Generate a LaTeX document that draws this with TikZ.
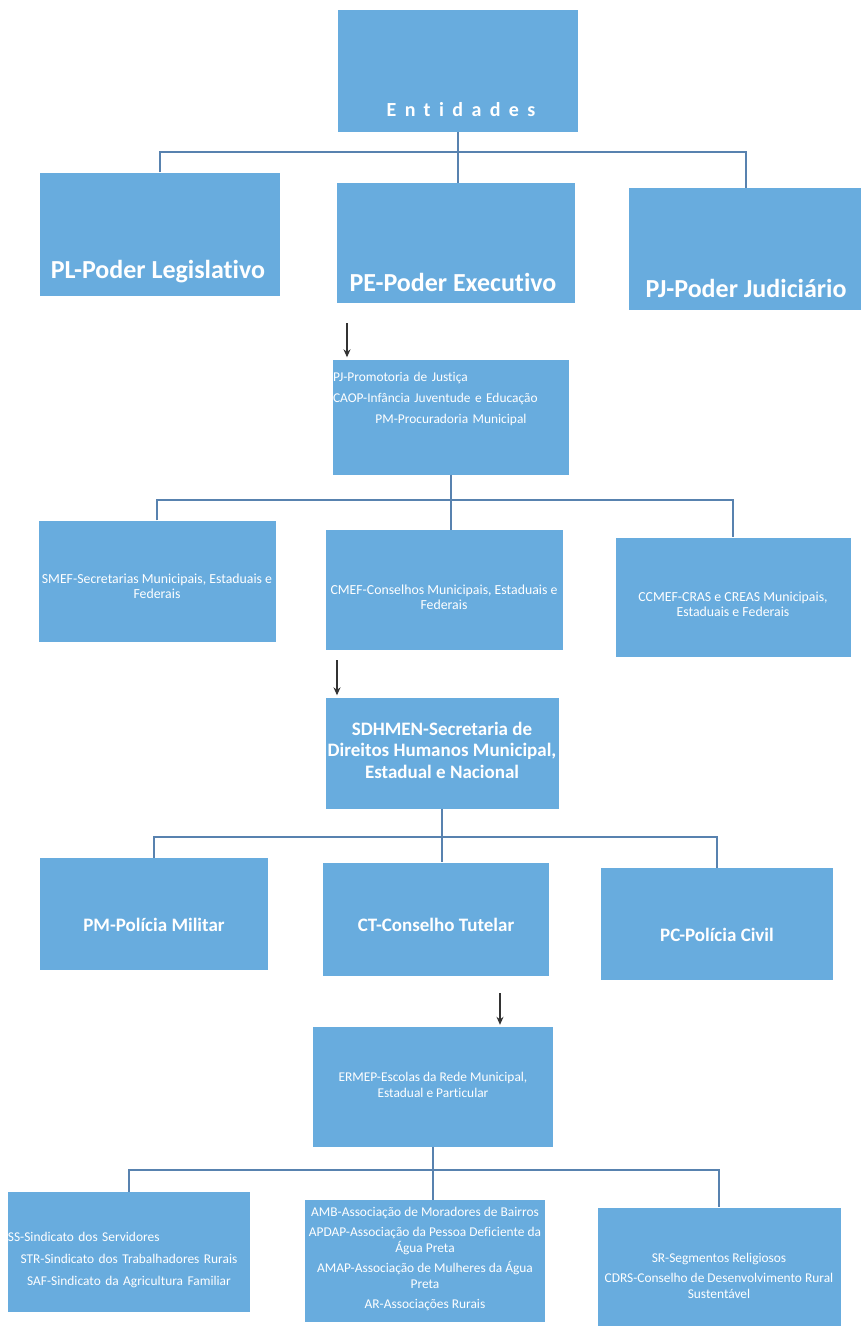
\documentclass[tikz,border=0pt]{standalone}
\usepackage{fontspec}
\setmainfont[Ligatures=NoCommon]{Carlito}
\newfontfamily\spacedfont[LetterSpace=42,Ligatures=NoCommon]{Carlito}
\usetikzlibrary{arrows.meta}
\definecolor{boxblue}{RGB}{104,172,222}
\definecolor{lineblue}{RGB}{88,130,175}
\begin{document}
\begin{tikzpicture}[x=1pt,y=-1pt,
  box/.style 2 args={rectangle, fill=boxblue, draw=none, minimum width=#1, minimum height=#2, inner sep=0pt},
  txt/.style={text=white, align=center, inner sep=0pt},
  big/.style={font=\fontsize{26}{30}\selectfont\bfseries},
  mid/.style={font=\fontsize{19}{21.5}\selectfont\bfseries},
  small/.style={font=\fontsize{13.4}{16}\selectfont},
  conn/.style={draw=lineblue, line width=2pt},
  arr/.style={draw=black!80, line width=1.3pt, shorten >=2pt, -{Stealth[length=8pt,width=7pt]}}]
\fill[white] (0,0) rectangle (860,1326);
\useasboundingbox (0,0) rectangle (860,1326);

% level 0
\node[box={240pt}{122pt}] (ent) at (458,71) {};
\node[txt, font={\spacedfont\bfseries\fontsize{20}{24}\selectfont}] (entT) at (461,110) {Entidades};

% level 1
\node[box={240pt}{123pt}] (pl) at (160,234) {};
\node[txt,big] (plT) at (158,272) {PL-Poder Legislativo};
\node[box={238pt}{120pt}] (pe) at (456,243) {};
\node[txt,big] (peT) at (453,282) {PE-Poder Executivo};
\node[box={234pt}{122pt}] (pj) at (746,249) {};
\node[txt,big] (pjT) at (746,288) {PJ-Poder Judiciário};

\draw[conn] (ent.south) -- (ent.south |- pe.north);
\path (ent.south) ++(0,20) coordinate (j1);
\draw[conn] (pl.north) |- (j1) -| (pj.north);

% promotoria
\coordinate (a1) at (347,323);
\node[box={236pt}{115pt}] (prom) at (451,417) {};
\draw[arr] (a1) -- (a1 |- prom.north);
\node[txt,small,text width=236pt,anchor=north] (promT) at (451,372) {\makebox[236pt][l]{PJ-Promotoria de Justiça}\\[5pt]\makebox[236pt][l]{CAOP-Infância Juventude e Educação}\\[5pt]PM-Procuradoria Municipal};

% level 2
\node[box={237pt}{121pt}] (smef) at (157,581) {};
\node[txt,font=\fontsize{13.8}{15}\selectfont] (smefT) at (157,586) {SMEF-Secretarias Municipais, Estaduais e\\Federais};
\node[box={237pt}{120pt}] (cmef) at (444,590) {};
\node[txt,font=\fontsize{13.8}{15}\selectfont] (cmefT) at (444,597) {CMEF-Conselhos Municipais, Estaduais e\\Federais};
\node[box={235pt}{119pt}] (ccmef) at (733,597) {};
\node[txt,font=\fontsize{13.8}{15}\selectfont] (ccmefT) at (733,604) {CCMEF-CRAS e CREAS Municipais,\\Estaduais e Federais};

\draw[conn] (prom.south) -- (prom.south |- cmef.north);
\path (prom.south) ++(0,25) coordinate (j2);
\draw[conn] (smef.north) |- (j2) -| (ccmef.north);

% SDHMEN
\coordinate (a2) at (337,660);
\node[box={233pt}{111pt}] (sdh) at (442,753) {};
\draw[arr] (a2) -- (a2 |- sdh.north);
\node[txt,mid] (sdhT) at (442,750) {SDHMEN-Secretaria de\\Direitos Humanos Municipal,\\Estadual e Nacional};

% level 3
\node[box={228pt}{112pt}] (pm) at (154,914) {};
\node[txt,mid] (pmT) at (154,925) {PM-Polícia Militar};
\node[box={226pt}{113pt}] (ct) at (436,919) {};
\node[txt,mid] (ctT) at (436,925) {CT-Conselho Tutelar};
\node[box={232pt}{112pt}] (pc) at (717,924) {};
\node[txt,mid] (pcT) at (717,935) {PC-Polícia Civil};

\draw[conn] (sdh.south) -- (sdh.south |- ct.north);
\path (sdh.south) ++(0,28) coordinate (j3);
\draw[conn] (pm.north) |- (j3) -| (pc.north);

% ERMEP
\coordinate (a3) at (500,993);
\node[box={240pt}{120pt}] (ermep) at (433,1087) {};
\draw[arr] (a3) -- (a3 |- ermep.north);
\node[txt,small] (ermepT) at (433,1085) {ERMEP-Escolas da Rede Municipal,\\Estadual e Particular};

% level 4
\node[box={242pt}{120pt}] (ss) at (129,1252) {};
\node[txt,small,text width=242pt] (ssT) at (129,1260) {\makebox[242pt][l]{SS-Sindicato dos Servidores}\\[6pt]STR-Sindicato dos Trabalhadores Rurais\\[6pt]SAF-Sindicato da Agricultura Familiar};
\node[box={240pt}{122pt}] (amb) at (425,1261) {};
\node[txt,small] (ambT) at (425,1259) {AMB-Associação de Moradores de Bairros\\[4pt]APDAP-Associação da Pessoa Deficiente da\\Água Preta\\[4pt]AMAP-Associação de Mulheres da Água\\Preta\\[4pt]AR-Associações Rurais};
\node[box={243pt}{119pt}] (sr) at (719,1267) {};
\node[txt,small] (srT) at (719,1276) {SR-Segmentos Religiosos\\[4pt]CDRS-Conselho de Desenvolvimento Rural\\Sustentável};

\draw[conn] (ermep.south) -- (ermep.south |- amb.north);
\path (ermep.south) ++(0,23) coordinate (j4);
\draw[conn] (ss.north) |- (j4) -| (sr.north);
\end{tikzpicture}
\end{document}
